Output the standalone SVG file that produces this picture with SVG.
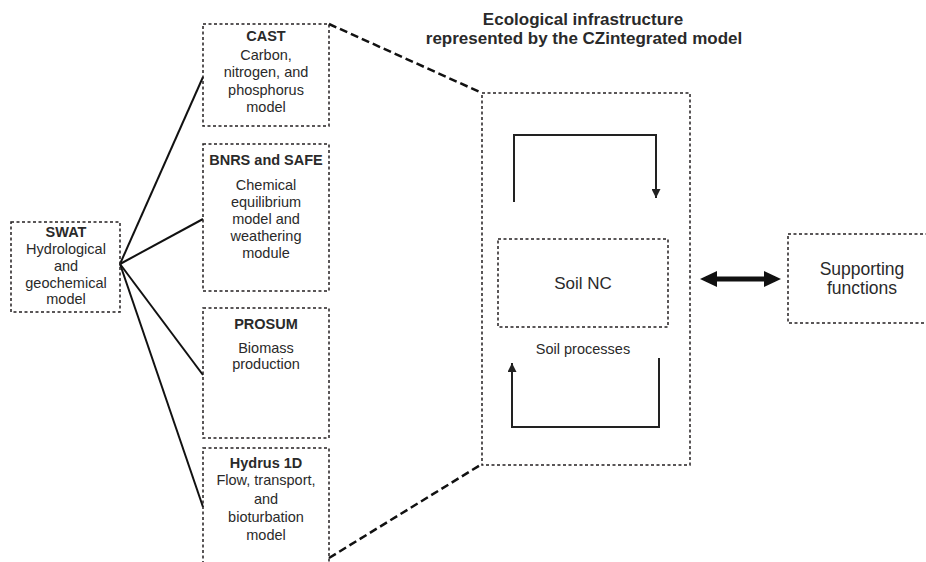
<svg xmlns="http://www.w3.org/2000/svg" width="926" height="562" viewBox="0 0 926 562">
<style>
text{font-family:"Liberation Sans",Arial,sans-serif;fill:#2a2a2a;text-anchor:middle}
.t{font-size:14.5px}
.b{font-weight:bold}
.box{fill:none;stroke:#231f20;stroke-width:1.5;stroke-dasharray:3 2.5}
.link{fill:none;stroke:#111;stroke-width:2}
.zoom{fill:none;stroke:#111;stroke-width:2.5;stroke-dasharray:8 4}
.loop{fill:none;stroke:#222;stroke-width:2}
</style>
<defs>
<marker id="ah" viewBox="0 0 10 10" refX="10" refY="5" markerWidth="9" markerHeight="9" markerUnits="userSpaceOnUse" orient="auto">
<path d="M0,0 L10,5 L0,10 Z" fill="#222"/>
</marker>
</defs>

<g id="connectors">
<line class="link" x1="120" y1="264" x2="203" y2="77"/>
<line class="link" x1="120" y1="264" x2="203" y2="219"/>
<line class="link" x1="120" y1="264" x2="203" y2="375"/>
<line class="link" x1="120" y1="264" x2="203" y2="507"/>
<line class="zoom" x1="329" y1="24" x2="482" y2="93"/>
<line class="zoom" x1="329" y1="558" x2="482" y2="464"/>
<path class="loop" d="M514,202 V135 H656 V198" marker-end="url(#ah)"/>
<path class="loop" d="M659,358 V427 H512 V363" marker-end="url(#ah)"/>
<path d="M700,279 L717,271 L717,276.5 L764,276.5 L764,271 L781,279 L764,287 L764,281.5 L717,281.5 L717,287 Z" fill="#111"/>
</g>

<g id="swat">
<rect class="box" x="11" y="222" width="109" height="90"/>
<text class="t b" x="66" y="237">SWAT</text>
<text class="t" x="66" y="254">Hydrological</text>
<text class="t" x="66" y="271">and</text>
<text class="t" x="66" y="288">geochemical</text>
<text class="t" x="66" y="304">model</text>
</g>

<g id="cast">
<rect class="box" x="203" y="24" width="126" height="102"/>
<text class="t b" x="266" y="41">CAST</text>
<text class="t" x="266" y="60">Carbon,</text>
<text class="t" x="266" y="77">nitrogen, and</text>
<text class="t" x="266" y="95">phosphorus</text>
<text class="t" x="266" y="112">model</text>
</g>

<g id="bnrs">
<rect class="box" x="203" y="144" width="126" height="147"/>
<text class="t b" x="266" y="165">BNRS and SAFE</text>
<text class="t" x="266" y="190">Chemical</text>
<text class="t" x="266" y="207">equilibrium</text>
<text class="t" x="266" y="224">model and</text>
<text class="t" x="266" y="241">weathering</text>
<text class="t" x="266" y="258">module</text>
</g>

<g id="prosum">
<rect class="box" x="203" y="308" width="126" height="130"/>
<text class="t b" x="266" y="329">PROSUM</text>
<text class="t" x="266" y="353">Biomass</text>
<text class="t" x="266" y="369">production</text>
</g>

<g id="hydrus">
<rect class="box" x="203" y="448" width="126" height="130"/>
<text class="t b" x="266" y="468">Hydrus 1D</text>
<text class="t" x="266" y="485">Flow, transport,</text>
<text class="t" x="266" y="504">and</text>
<text class="t" x="266" y="522">bioturbation</text>
<text class="t" x="266" y="540">model</text>
</g>

<g id="title">
<text class="b" font-size="17" x="583" y="25">Ecological infrastructure</text>
<text class="b" font-size="17" x="584" y="44">represented by the CZintegrated model</text>
</g>

<g id="ecological-infrastructure">
<rect class="box" x="482" y="93" width="208" height="372"/>
<text font-size="14.5" x="583" y="354">Soil processes</text>
</g>

<g id="soil-nc">
<rect class="box" x="498" y="239" width="170" height="88"/>
<text font-size="17" x="583" y="289">Soil NC</text>
</g>

<g id="supporting-functions">
<rect class="box" x="788" y="234" width="150" height="89"/>
<text font-size="17.5" x="862" y="275">Supporting</text>
<text font-size="17.5" x="862" y="294">functions</text>
</g>
</svg>
